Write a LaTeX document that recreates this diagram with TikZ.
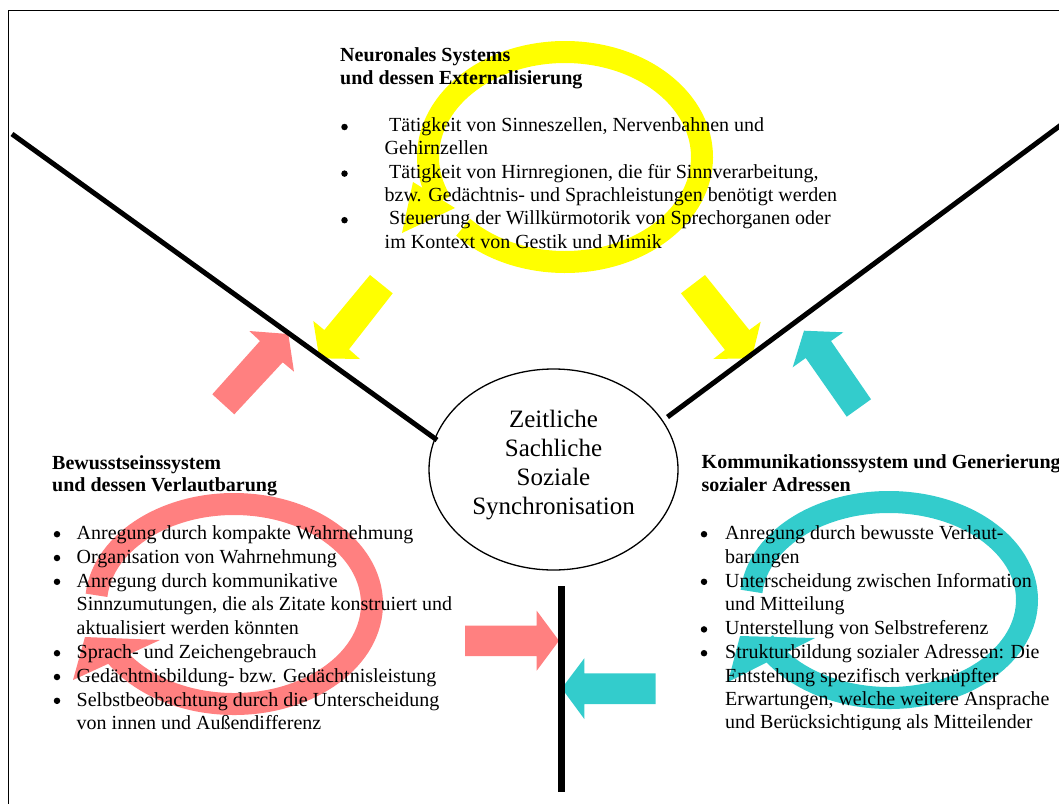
\documentclass[tikz,border=0pt]{standalone}
\usepackage{fontspec}
\setmainfont{Liberation Serif}
\usetikzlibrary{shapes.geometric}
\definecolor{ringred}{HTML}{FF8080}
\definecolor{ringyellow}{HTML}{FFFF00}
\definecolor{ringcyan}{HTML}{33CCCC}

\begin{document}
\begin{tikzpicture}[x=1pt,y=-1pt,
  body/.style={anchor=base west, inner sep=0pt, font=\fontsize{20}{24}\selectfont},
  heading/.style={anchor=base west, inner sep=0pt, font=\fontsize{20}{24}\selectfont\bfseries},
  dot/.style={circle, fill=black, inner sep=0pt, minimum size=6.5pt},
  synclabel/.style={anchor=base, inner sep=0pt, font=\fontsize{25}{29}\selectfont},
  band/.style={line width=22pt, line cap=butt},
  divider/.style={line width=5pt}]

\useasboundingbox (0,0) rectangle (1059,803);
\clip (0,0) rectangle (1059,803);

% outer frame
\draw[line width=1pt] (8.5,810) -- (8.5,10) -- (1070,10);

% circular arrows
\draw[band, ringyellow] (565,157) ++(-222:137 and 105)
  arc[start angle=-222, end angle=-565, x radius=137, y radius=105];
\fill[ringyellow] (413,182) -- (455,208) -- (402,233) -- cycle;

\draw[band, ringred] (234,604) ++(-175:138 and 100)
  arc[start angle=-175, end angle=155, x radius=138, y radius=100];
\fill[ringred] (85,637) -- (160,640) -- (73,680) -- cycle;

\draw[band, ringcyan] (889,600) ++(-175:138 and 98)
  arc[start angle=-175, end angle=155, x radius=138, y radius=98];
\fill[ringcyan] (740,636) -- (815,638) -- (728,682) -- cycle;

% block arrows
\fill[ringred] (212.3,394.3) -- (260,341) -- (249.3,331) -- (288.3,334)
  -- (294,371.7) -- (282.7,362.3) -- (234.3,414.3) -- cycle;
\fill[ringyellow] (370,275) -- (392.7,293.3) -- (349,349.3) -- (360,359)
  -- (319.3,358.3) -- (313.3,321) -- (324.3,330) -- cycle;
\fill[ringyellow] (705,275) -- (681,293.3) -- (725,350) -- (713.3,359)
  -- (751.7,358.3) -- (760.7,321.7) -- (749.3,330) -- cycle;
\fill[ringcyan] (846.7,416.7) -- (805.7,358) -- (792.7,367.3) -- (804,330.7)
  -- (843.3,332.3) -- (831,341) -- (871,399.3) -- cycle;
\fill[ringred] (465,625.7) -- (536.7,625.7) -- (536.7,610.7) -- (559,640.7)
  -- (536.7,670.7) -- (536.7,656) -- (465,656) -- cycle;
\fill[ringcyan] (655.7,673.3) -- (584.3,673.3) -- (584.3,658.3) -- (561.7,688.3)
  -- (584.3,719) -- (584.3,704) -- (655.7,704) -- cycle;

% dividing lines
\coordinate (lineLa) at (12,134);
\coordinate (lineLb) at (437,440);
\coordinate (lineRa) at (667.5,417);
\coordinate (lineRb) at (1065,122);
\coordinate (lineVa) at (561,586);
\coordinate (lineVb) at (561,792);
\draw[divider] (lineLa) -- (lineLb);
\draw[divider] (lineRa) -- (lineRb);
\draw[line width=7pt] (lineVa) -- (lineVb);

% centre
\node[draw, ellipse, line width=1.3pt, minimum width=249pt, minimum height=201pt, inner sep=0pt] (sync) at (553.5,469.5) {};
\node[synclabel] (sync-1) at (553.5,427) {Zeitliche};
\node[synclabel] (sync-2) at (553.5,456) {Sachliche};
\node[synclabel] (sync-3) at (553.5,485) {Soziale};
\node[synclabel] (sync-4) at (553.5,514) {Synchronisation};

% neural system
\node[heading] (top-h1) at (340,61.7) {Neuronales Systems};
\node[heading] (top-h2) at (340,84.3) {und dessen Externalisierung};
\foreach \n/\yy in {1/131.5, 2/178.1, 3/224.7}
  \node[dot] (topdot-\n) at (344.5,\yy-4.5) {};
\foreach \n/\xx/\yy/\t in {
  1/389/131.5/{Tätigkeit von Sinneszellen, Nervenbahnen und},
  2/384.5/154.8/{Gehirnzellen},
  3/389/178.1/{Tätigkeit von Hirnregionen, die für Sinnverarbeitung,},
  4/384.5/201.4/{bzw. Gedächtnis- und Sprachleistungen benötigt werden},
  5/389/224.7/{Steuerung der Willkürmotorik von Sprechorganen oder},
  6/384.5/248/{im Kontext von Gestik und Mimik}}
  \node[body] (top-\n) at (\xx,\yy) {\t};

% consciousness system
\node[heading] (left-h1) at (52,469.3) {Bewusstseinssystem};
\node[heading] (left-h2) at (52,491.7) {und dessen Verlautbarung};
\foreach \n/\yy in {1/539.5, 2/563.3, 3/587.1, 4/658.5, 5/682.3, 6/706.1}
  \node[dot] (leftdot-\n) at (57,\yy-5.3) {};
\foreach \n/\yy/\t in {
  1/539.5/{Anregung durch kompakte Wahrnehmung},
  2/563.3/{Organisation von Wahrnehmung},
  3/587.1/{Anregung durch kommunikative},
  4/610.9/{Sinnzumutungen, die als Zitate konstruiert und},
  5/634.7/{aktualisiert werden könnten},
  6/658.5/{Sprach- und Zeichengebrauch},
  7/682.3/{Gedächtnisbildung- bzw. Gedächtnisleistung},
  8/706.1/{Selbstbeobachtung durch die Unterscheidung},
  9/729.9/{von innen und Außendifferenz}}
  \node[body] (left-\n) at (76.5,\yy) {\t};

% communication system
\node[heading] (right-h1) at (701.5,468.3) {Kommunikationssystem und Generierung};
\node[heading] (right-h2) at (701.5,491.7) {sozialer Adressen};
\foreach \n/\yy in {1/539.5, 2/587.1, 3/634.7, 4/658.5}
  \node[dot] (rightdot-\n) at (704,\yy-5.3) {};
\begin{scope}
  \clip (690,500) rectangle (1059,729);
  \foreach \n/\yy/\t in {
    1/539.5/{Anregung durch bewusste Verlaut-},
    2/563.3/{barungen},
    3/587.1/{Unterscheidung zwischen Information},
    4/610.9/{und Mitteilung},
    5/634.7/{Unterstellung von Selbstreferenz},
    6/658.5/{Strukturbildung sozialer Adressen: Die},
    7/682.3/{Entstehung spezifisch verknüpfter},
    8/705.6/{Erwartungen, welche weitere Ansprache},
    9/728/{und Berücksichtigung als Mitteilender}}
    \node[body] (right-\n) at (725,\yy) {\t};
\end{scope}

\end{tikzpicture}
\end{document}
